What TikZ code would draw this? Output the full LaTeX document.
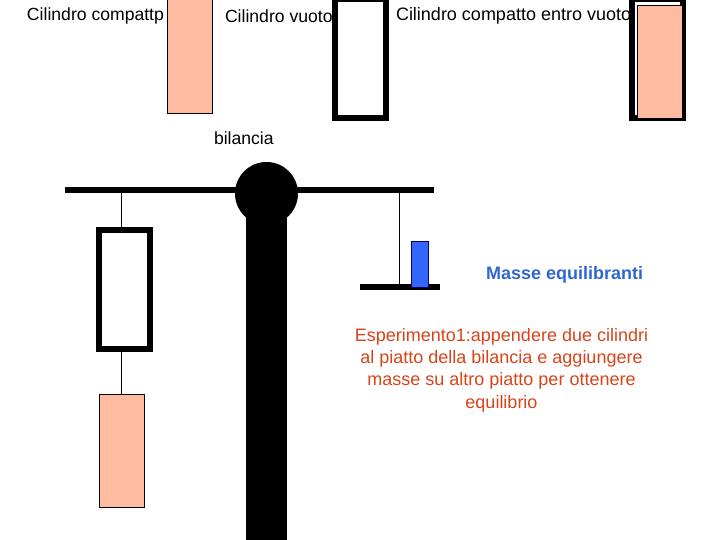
\documentclass[tikz,border=0pt]{standalone}
\usepackage{fontspec}
\setmainfont{Liberation Sans}
\usepackage{tikz}
\usetikzlibrary{positioning}
\definecolor{salmone}{HTML}{FFBB9F}
\definecolor{massa}{HTML}{3366FF}
\definecolor{scritta}{HTML}{2F66D6}
\definecolor{esperimento}{HTML}{D8431A}
\tikzset{x=1pt,y=-1pt,inner sep=0pt,outer sep=0pt}
\tikzset{etichetta/.style={font=\fontsize{17.6}{22}\selectfont,anchor=west}}
\tikzset{compatto/.style={rectangle,draw=black,line width=1pt,fill=salmone,minimum width=45.5pt,minimum height=113.5pt}}
\tikzset{vuoto/.style={rectangle,draw=black,line width=6pt,fill=white,minimum width=51pt,minimum height=119pt}}
\tikzset{barra/.style={rectangle,fill=black}}
\tikzset{filo/.style={draw=black,line width=0.8pt}}

\begin{document}
\begin{tikzpicture}
    \useasboundingbox (0,0) rectangle (720,540);
    \node[etichetta] (lcompatto) at (27,16) {Cilindro compattp};
    \node[etichetta] (lvuoto) at (225,16) {Cilindro vuoto};
    \node[etichetta,font=\fontsize{18}{22}\selectfont] (lentro) at (396,16) {Cilindro compatto entro vuoto};
    \node[compatto] (c1) at (190,56.5) {};
    \node[vuoto] (v1) at (360.5,59) {};
    \node[vuoto] (v2) at (657.5,59) {};
    \node[compatto] (c2) at (660,62) {};
    \node[etichetta] (lbilancia) at (214,138) {bilancia};

    \node[barra,minimum width=41pt,minimum height=330pt] (asta) at (266.5,375) {};
    \node[barra,minimum width=369pt,minimum height=6pt] (giogo) at (249.5,190.5) {};
    \node[circle,fill=black,minimum size=63pt] (perno) at (266.5,193.5) {};

    \node[vuoto] (v3) at (124.5,289.5) {};
    \node[compatto] (c3) at (122,451) {};
    \node[barra,minimum width=80pt,minimum height=6pt] (piatto) at (400,287) {};
    \node[rectangle,draw=black!60!blue,line width=1pt,fill=massa,minimum width=17pt,minimum height=46pt] (m1) at (420,264) {};

    \coordinate (g1) at (121.7,193);
    \coordinate (g2) at (399.5,193);
    \draw[filo] (g1) -- (v3.north -| g1);
    \draw[filo] (v3.south -| g1) -- (c3.north -| g1);
    \draw[filo] (g2) -- (piatto.north -| g2);

    \node[etichetta,text=scritta,font=\fontsize{18}{22}\bfseries] (lmasse) at (486,275) {Masse equilibranti};
    \node[text=esperimento,align=center,font=\fontsize{18}{22.4}\selectfont] (lesp) at (501.5,370)
        {Esperimento1:appendere due cilindri\\al piatto della bilancia e aggiungere\\masse su altro piatto per ottenere\\equilibrio};
\end{tikzpicture}
\end{document}
